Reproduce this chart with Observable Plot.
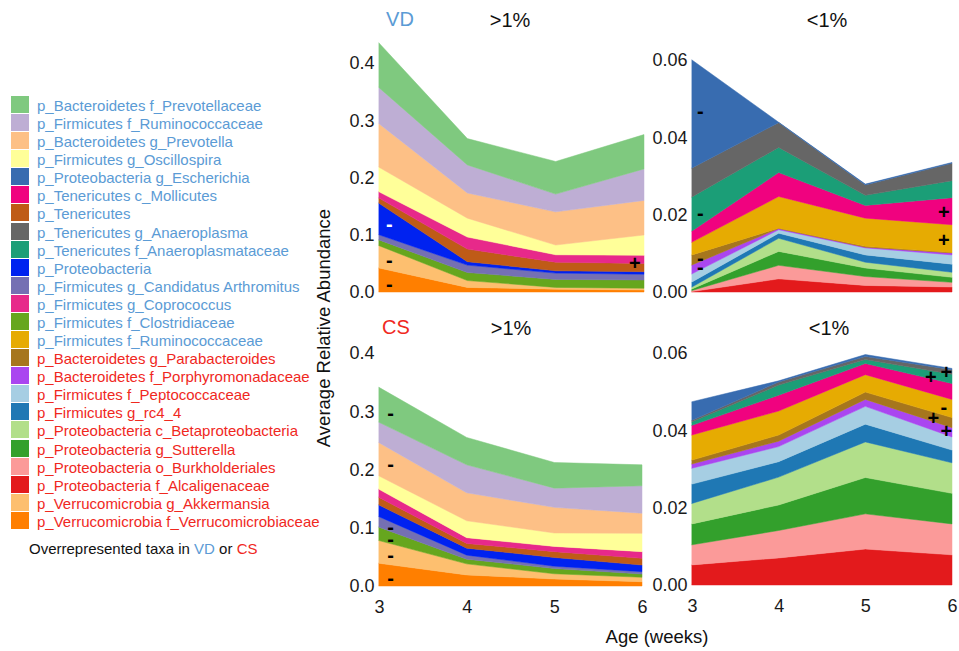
<!DOCTYPE html>
<html><head><meta charset="utf-8">
<script src="https://cdn.jsdelivr.net/npm/d3@7"></script>
<script src="https://cdn.jsdelivr.net/npm/@observablehq/plot@0.6"></script>
<style>
body{margin:0;background:#fff;font-family:"Liberation Sans",Arial,sans-serif;}
#root{position:relative;width:959px;height:651px;overflow:hidden;background:#fff;}
.t{position:absolute;transform:translate(-50%,-50%);line-height:1;white-space:nowrap;}
.p{position:absolute;}
.lg{position:absolute;left:11px;top:96px;}
.row{position:absolute;left:0;height:18px;white-space:nowrap;}
.sw{position:absolute;left:0;top:0;width:18px;height:17px;}
.lt{position:absolute;left:26px;top:9px;transform:translateY(-50%);font-size:15px;line-height:1;}
</style></head><body><div id="root"></div>
<script>
// ---------- data ----------
const weeks = [3, 4, 5, 6];

const taxa = [
  "p_Bacteroidetes f_Prevotellaceae",
  "p_Firmicutes f_Ruminococcaceae",
  "p_Bacteroidetes g_Prevotella",
  "p_Firmicutes g_Oscillospira",
  "p_Proteobacteria g_Escherichia",
  "p_Tenericutes c_Mollicutes",
  "p_Tenericutes",
  "p_Tenericutes g_Anaeroplasma",
  "p_Tenericutes f_Anaeroplasmataceae",
  "p_Proteobacteria",
  "p_Firmicutes g_Candidatus Arthromitus",
  "p_Firmicutes g_Coprococcus",
  "p_Firmicutes f_Clostridiaceae",
  "p_Firmicutes f_Ruminococcaceae",
  "p_Bacteroidetes g_Parabacteroides",
  "p_Bacteroidetes f_Porphyromonadaceae",
  "p_Firmicutes f_Peptococcaceae",
  "p_Firmicutes g_rc4_4",
  "p_Proteobacteria c_Betaproteobacteria",
  "p_Proteobacteria g_Sutterella",
  "p_Proteobacteria o_Burkholderiales",
  "p_Proteobacteria f_Alcaligenaceae",
  "p_Verrucomicrobia g_Akkermansia",
  "p_Verrucomicrobia f_Verrucomicrobiaceae"
];
const taxaColors = [
  "#7fc97f","#beaed4","#fdc086","#ffff99","#386cb0","#f0027f","#bf5b17","#666666",
  "#1b9e77","#0022f0","#7570b3","#e7298a","#66a61e","#e6ab02","#a6761d","#aa46f0",
  "#a6cee3","#1f78b4","#b2df8a","#33a02c","#fb9a99","#e31a1c","#fdbf6f","#ff7f00"
];
const taxaGroup = ["VD","VD","VD","VD","VD","VD","VD","VD","VD","VD","VD","VD","VD","VD",
  "CS","CS","CS","CS","CS","CS","CS","CS","CS","CS"];
const groupColors = {VD: "#5b9bd5", CS: "#f0281e"};

// stacking order (bottom -> top), indices into taxa
const highOrder = [23, 22, 12, 10, 9, 6, 11, 3, 2, 1, 0];
const lowOrder  = [21, 20, 19, 18, 17, 16, 15, 14, 13, 5, 8, 7, 4];

// values per taxon (rows follow highOrder / lowOrder), columns = weeks 3..6
const vdHigh = [
  [0.042, 0.008, 0.005, 0.0035],
  [0.039, 0.012, 0.003, 0.003],
  [0.010, 0.014, 0.014, 0.0145],
  [0.009, 0.013, 0.011, 0.010],
  [0.055, 0.006, 0.004, 0.0045],
  [0.009, 0.022, 0.015, 0.0145],
  [0.011, 0.021, 0.013, 0.014],
  [0.043, 0.033, 0.017, 0.0356],
  [0.076, 0.044, 0.058, 0.0604],
  [0.063, 0.049, 0.031, 0.055],
  [0.078, 0.046, 0.057, 0.060]
];
const csHigh = [
  [0.039, 0.019, 0.012, 0.0074],
  [0.039, 0.019, 0.009, 0.0076],
  [0.023, 0.008, 0.009, 0.0056],
  [0.018, 0.007, 0.004, 0.004],
  [0.020, 0.012, 0.015, 0.0114],
  [0.013, 0.008, 0.010, 0.0115],
  [0.014, 0.010, 0.009, 0.0115],
  [0.023, 0.029, 0.023, 0.0314],
  [0.057, 0.048, 0.044, 0.0346],
  [0.035, 0.048, 0.033, 0.047],
  [0.060, 0.047, 0.044, 0.036]
];
const vdLow = [
  [0.0001, 0.0034, 0.0017, 0.0013],
  [0.0003, 0.0035, 0.0023, 0.0012],
  [0.0004, 0.0036, 0.0022, 0.0013],
  [0.0005, 0.0034, 0.0015, 0.0013],
  [0.0013, 0.0013, 0.0019, 0.0021],
  [0.0021, 0.0009, 0.0018, 0.0024],
  [0.0023, 0.0003, 0.0002, 0.0005],
  [0.0026, 0.0001, 0.0002, 0.0001],
  [0.0033, 0.0082, 0.0073, 0.0072],
  [0.0029, 0.0062, 0.0033, 0.0070],
  [0.0088, 0.0065, 0.0026, 0.0044],
  [0.0075, 0.0064, 0.0027, 0.0045],
  [0.0279, 0.0001, 0.0002, 0.0002]
];
const csLow = [
  [0.0052, 0.0070, 0.0093, 0.0078],
  [0.0052, 0.0071, 0.0091, 0.0080],
  [0.0054, 0.0066, 0.0094, 0.0079],
  [0.0053, 0.0072, 0.0092, 0.0079],
  [0.0050, 0.0040, 0.0046, 0.0033],
  [0.0041, 0.0039, 0.0046, 0.0034],
  [0.0011, 0.0014, 0.0018, 0.0024],
  [0.0010, 0.0016, 0.0019, 0.0026],
  [0.0065, 0.0062, 0.0045, 0.0047],
  [0.0025, 0.0041, 0.0029, 0.0041],
  [0.0009, 0.0026, 0.0010, 0.0024],
  [0.0004, 0.0008, 0.0008, 0.0012],
  [0.0048, 0.0003, 0.0005, 0.0003]
];

// significance markers: [week, abundance, symbol, colour]
const vdHighSigns = [[3.11, 0.119, "-", "white"], [3.11, 0.056, "-", "black"], [3.11, 0.014, "-", "black"], [5.89, 0.051, "+", "black"]];
const vdLowSigns  = [[3.09, 0.0467, "-", "black"], [3.09, 0.0205, "-", "black"], [3.09, 0.0087, "-", "black"], [3.09, 0.0065, "-", "black"], [5.90, 0.0207, "+", "black"], [5.90, 0.0134, "+", "black"]];
const csHighSigns = [[3.125, 0.297, "-", "black"], [3.125, 0.209, "-", "black"], [3.125, 0.101, "-", "black"], [3.125, 0.081, "-", "black"], [3.125, 0.053, "-", "black"], [3.125, 0.014, "-", "black"]];
const csLowSigns  = [[5.75, 0.0538, "+", "black"], [5.93, 0.0551, "+", "black"], [5.90, 0.0460, "-", "black"], [5.78, 0.0432, "+", "black"], [5.93, 0.0398, "+", "black"]];

const highTicks = [0, 0.1, 0.2, 0.3, 0.4];
const lowTicks = [0, 0.02, 0.04, 0.06];

// ---------- drawing ----------
const root = document.getElementById("root");
const FONT = "Liberation Sans, Arial, Helvetica, sans-serif";

function panel(o) {
  const data = o.rows.flatMap((r, i) => weeks.map((w, j) => ({k: o.order[i], week: w, value: r[j]})));
  const p = Plot.plot({
    width: o.width, height: o.height,
    marginTop: o.mt, marginBottom: o.mb, marginLeft: o.ml, marginRight: o.mr,
    style: {fontFamily: FONT, fontSize: "18px", color: "#1a1a1a", background: "transparent", overflow: "visible"},
    x: {domain: [3, 6], ticks: weeks, tickFormat: d => String(d), label: null, axis: o.xAxis ? "bottom" : null, tickSize: 0, tickPadding: 14},
    y: {domain: o.yDomain, ticks: o.yTicks, tickFormat: d3.format(o.fmt), label: null, tickSize: 0, tickPadding: 5},
    color: {domain: taxa.map((_, i) => i), range: taxaColors},
    marks: [
      Plot.areaY(data, {x: "week", y: "value", z: "k", fill: "k", stroke: "k", strokeWidth: 0.5, order: o.order}),
      Plot.text(o.signs.filter(s => s[3] === "black"), {x: d => d[0], y: d => d[1], text: d => d[2], fill: "black", fontSize: 20, fontWeight: "bold"}),
      Plot.text(o.signs.filter(s => s[3] === "white"), {x: d => d[0], y: d => d[1], text: d => d[2], fill: "white", fontSize: 20, fontWeight: "bold"})
    ]
  });
  p.classList.add("p");
  p.style.left = o.left + "px";
  p.style.top = o.top + "px";
  root.appendChild(p);
}

panel({rows: vdHigh, order: highOrder, signs: vdHighSigns, yDomain: [0, 0.435], yTicks: highTicks, fmt: ".1f",
  left: 330, top: 0, width: 320, height: 300, mt: 43, mb: 8, ml: 49, mr: 6, xAxis: false});
panel({rows: vdLow, order: lowOrder, signs: vdLowSigns, yDomain: [0, 0.06], yTicks: lowTicks, fmt: ".2f",
  left: 650, top: 0, width: 309, height: 300, mt: 60, mb: 8, ml: 42, mr: 7, xAxis: false});
panel({rows: csHigh, order: highOrder, signs: csHighSigns, yDomain: [0, 0.4], yTicks: highTicks, fmt: ".1f",
  left: 330, top: 300, width: 320, height: 351, mt: 53, mb: 65, ml: 49, mr: 8, xAxis: true});
panel({rows: csLow, order: lowOrder, signs: csLowSigns, yDomain: [0, 0.06], yTicks: lowTicks, fmt: ".2f",
  left: 650, top: 300, width: 309, height: 351, mt: 53, mb: 66, ml: 42, mr: 7, xAxis: true});

function label(text, x, y, size, color, rot) {
  const d = document.createElement("div");
  d.className = "t";
  d.textContent = text;
  d.style.left = x + "px";
  d.style.top = y + "px";
  d.style.fontSize = size + "px";
  d.style.color = color;
  if (rot) d.style.transform = "translate(-50%,-50%) rotate(-90deg)";
  root.appendChild(d);
}
label("VD", 400, 19, 20, groupColors.VD);
label(">1%", 510, 20, 20, "#111");
label("<1%", 827, 20, 20, "#111");
label("CS", 396, 327, 20, groupColors.CS);
label(">1%", 511, 328, 20, "#111");
label("<1%", 829, 328, 20, "#111");
label("Average Relative Abundance", 323.5, 328, 18.5, "#111", true);
label("Age (weeks)", 657, 637, 18.5, "#111");

// legend
const lg = document.createElement("div");
lg.className = "lg";
taxa.forEach((name, i) => {
  const r = document.createElement("div");
  r.className = "row";
  r.style.top = (i * 18.08) + "px";
  const s = document.createElement("div");
  s.className = "sw";
  s.style.background = taxaColors[i];
  const t = document.createElement("div");
  t.className = "lt";
  t.textContent = name;
  t.style.color = groupColors[taxaGroup[i]];
  r.appendChild(s); r.appendChild(t);
  lg.appendChild(r);
});
root.appendChild(lg);

const cap = document.createElement("div");
cap.style.cssText = "position:absolute;left:29px;top:548px;transform:translateY(-50%);font-size:15px;line-height:1;color:#111;white-space:nowrap;";
cap.innerHTML = 'Overrepresented taxa in <span style="color:' + groupColors.VD + '">VD</span> or <span style="color:' + groupColors.CS + '">CS</span>';
root.appendChild(cap);
</script></body></html>
